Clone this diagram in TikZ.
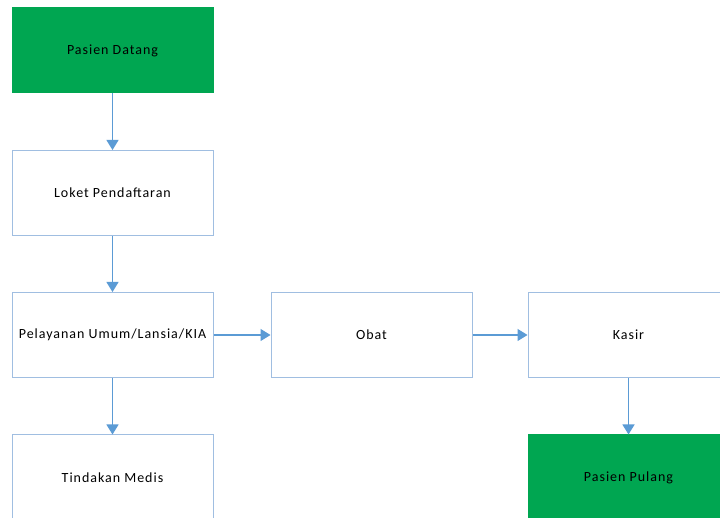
\documentclass[tikz,border=0pt]{standalone}
\usepackage{fontspec}
\setmainfont{Carlito}[LetterSpace=7]
\usetikzlibrary{arrows.meta}
\definecolor{boxgreen}{RGB}{0,166,81}
\definecolor{boxline}{RGB}{160,190,225}
\definecolor{arrowblue}{RGB}{91,155,213}
\tikzset{
  proc/.style={draw=boxline, line width=1pt, fill=white, minimum width=201pt, minimum height=85pt, inner sep=0pt, font=\fontsize{14}{16}\selectfont},
  term/.style={proc, draw=boxgreen, fill=boxgreen},
  flow/.style={draw=arrowblue, line width=1.2pt, -{Triangle[width=12pt,length=10pt]}}
}
\begin{document}
\begin{tikzpicture}[x=1pt,y=1pt]
\useasboundingbox (0,0) rectangle (720,518);
\clip (0,0) rectangle (720,518);
\fill[white] (0,0) rectangle (720,518);
\node[term] (datang) at (112.5,467.5) {Pasien Datang};
\node[proc] (loket) at (112.5,325) {Loket Pendaftaran};
\node[proc] (layan) at (112.5,183) {Pelayanan Umum/Lansia/KIA};
\node[proc] (tindak) at (112.5,40.5) {Tindakan Medis};
\node[proc] (obat) at (371.5,183) {Obat};
\node[proc] (kasir) at (628.5,183) {Kasir};
\node[term] (pulang) at (628.5,40.5) {Pasien Pulang};
\draw[flow] (datang) -- (loket);
\draw[flow] (loket) -- (layan);
\draw[flow] (layan) -- (tindak);
\draw[flow] (layan) -- (obat);
\draw[flow] (obat) -- (kasir);
\draw[flow] (kasir) -- (pulang);
\end{tikzpicture}
\end{document}
